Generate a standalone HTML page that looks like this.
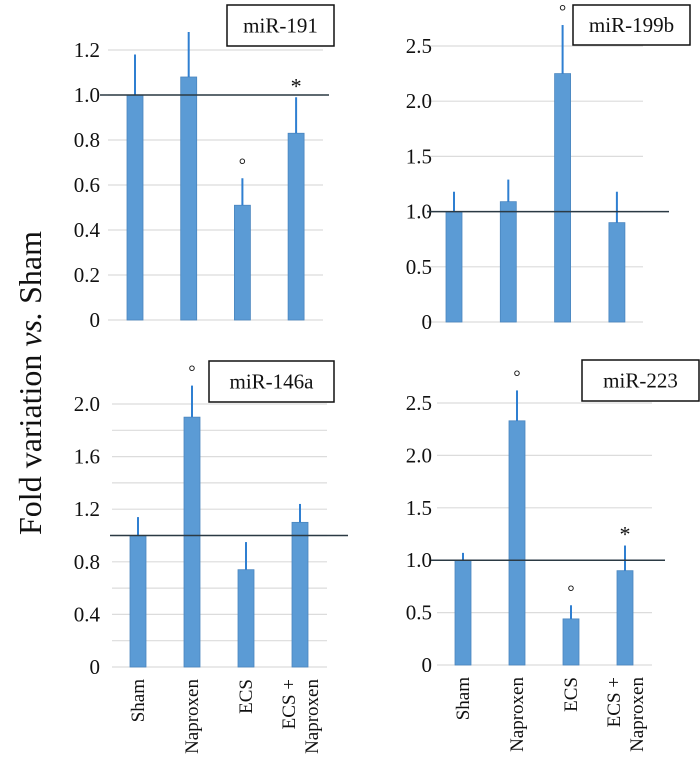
<!DOCTYPE html>
<html><head><meta charset="utf-8"><style>
html,body{margin:0;padding:0;background:#fff;}
svg{display:block;}
svg text{font-family:"Liberation Serif","Times New Roman","DejaVu Serif",serif;}
</style></head><body>
<svg id="chart" width="700" height="771" viewBox="0 0 700 771" xmlns="http://www.w3.org/2000/svg">
<text transform="translate(41,383) rotate(-90)" text-anchor="middle" font-size="32" fill="#111">Fold variation <tspan font-style="italic">vs.</tspan> Sham</text>
</svg>
<script>
const categories = ["Sham","Naproxen","ECS","ECS +|Naproxen"];
const p1Values = [1.0, 1.08, 0.51, 0.83];
const p1Errors = [1.18, 1.28, 0.63, 0.99];
const p1Ticks = ["0","0.2","0.4","0.6","0.8","1.0","1.2"];
const p1Marks = ["", "", "°", "*"];
const p2Values = [1.0, 1.09, 2.25, 0.9];
const p2Errors = [1.18, 1.29, 2.69, 1.18];
const p2Ticks = ["0","0.5","1.0","1.5","2.0","2.5"];
const p2Marks = ["", "", "°", ""];
const p3Values = [1.0, 1.9, 0.74, 1.1];
const p3Errors = [1.14, 2.14, 0.95, 1.24];
const p3Ticks = ["0","0.4","0.8","1.2","1.6","2.0"];
const p3Marks = ["", "°", "", ""];
const p4Values = [1.0, 2.33, 0.44, 0.9];
const p4Errors = [1.07, 2.62, 0.57, 1.14];
const p4Ticks = ["0","0.5","1.0","1.5","2.0","2.5"];
const p4Marks = ["", "°", "°", "*"];

const svg = document.getElementById('chart');
const NS = "http://www.w3.org/2000/svg";
function mk(tag, attrs, parent){const e=document.createElementNS(NS,tag);for(const k in attrs)e.setAttribute(k,attrs[k]);(parent||svg).appendChild(e);return e;}

const panels = [
 {id:"mir-191", title:"miR-191", vals:p1Values, errs:p1Errors, ticks:p1Ticks, marks:p1Marks, y0:320, yTop:50, vTop:1.2, gx0:108, gx1:323, rx0:100, rx1:329, cx0:135, dx:53.7, labX:100, box:[227,5,107,41], minor:false, cats:false},
 {id:"mir-199b", title:"miR-199b", vals:p2Values, errs:p2Errors, ticks:p2Ticks, marks:p2Marks, y0:322, yTop:46, vTop:2.5, gx0:427, gx1:643, rx0:427, rx1:669, cx0:454, dx:54.3, labX:432, box:[573,5,117,40], minor:false, cats:false},
 {id:"mir-146a", title:"miR-146a", vals:p3Values, errs:p3Errors, ticks:p3Ticks, marks:p3Marks, y0:667, yTop:404, vTop:2.0, gx0:112, gx1:327, rx0:110, rx1:348, cx0:138, dx:54, labX:100, box:[209,361,125,41], minor:true, cats:true},
 {id:"mir-223", title:"miR-223", vals:p4Values, errs:p4Errors, ticks:p4Ticks, marks:p4Marks, y0:665, yTop:403, vTop:2.5, gx0:437, gx1:652, rx0:431, rx1:665, cx0:463, dx:54, labX:432, box:[582,360,117,41], minor:false, cats:true}
];

panels.forEach(p=>{
  const g = mk('g',{});
  
  
  const y = v => p.y0 - (v/p.vTop)*(p.y0-p.yTop);
  const n = p.ticks.length;
  const step = p.vTop/(n-1);
  const gridVals=[];
  for(let i=0;i<n;i++){gridVals.push(i*step); if(p.minor && i<n-1) gridVals.push(i*step+step/2);}
  gridVals.forEach(v=>{
    const l=mk('line',{x1:p.gx0,x2:p.gx1,y1:y(v),y2:y(v),stroke:'#dcdcdc','stroke-width':1.2},g);
    
    
  });
  p.ticks.forEach((t,i)=>{
    const tx=mk('text',{x:p.labX,y:y(i*step)+7,'text-anchor':'end','font-size':21,fill:'#111'},g);
    
    
    tx.textContent=t;
  });
  p.vals.forEach((v,i)=>{
    const cx=p.cx0+i*p.dx;
    const r=mk('rect',{x:cx-8,y:y(v),width:16,height:p.y0-y(v),fill:'#5b9bd5',stroke:'#4a86bf','stroke-width':0.8},g);
    
    
    const e=mk('line',{x1:cx,x2:cx,y1:y(v),y2:y(p.errs[i]),stroke:'#2f7fd1','stroke-width':2},g);
    
    
    if(p.marks[i]){
      const m=mk('text',{x:cx,y:y(p.errs[i])-(p.marks[i]==='*'?4:8),'text-anchor':'middle','font-size':p.marks[i]==='*'?22:18,fill:'#111'},g);
      
      
      m.textContent=p.marks[i];
    }
  });
  const rl=mk('line',{x1:p.rx0,x2:p.rx1,y1:y(1),y2:y(1),stroke:'#2b3a44','stroke-width':1.5},g);
  
  
  const b=mk('rect',{x:p.box[0],y:p.box[1],width:p.box[2],height:p.box[3],fill:'#fff',stroke:'#111','stroke-width':1.5},g);
  
  
  const tt=mk('text',{x:p.box[0]+p.box[2]/2,y:p.box[1]+p.box[3]/2+7,'text-anchor':'middle','font-size':21,fill:'#111'},g);
  
  
  tt.textContent=p.title;
  if(p.cats){
    categories.forEach((c,i)=>{
      const cx=p.cx0+i*p.dx;
      const parts=c.split('|');
      parts.forEach((s,j)=>{
        const off = parts.length===2 ? (j===0?-5:18) : 6;
        const ct=mk('text',{transform:`translate(${cx+off},${p.y0+12}) rotate(-90)`,'text-anchor':'end','font-size':19,fill:'#111'},g);
        
        
        ct.textContent=s;
      });
    });
  }
});
</script>
</body></html>
